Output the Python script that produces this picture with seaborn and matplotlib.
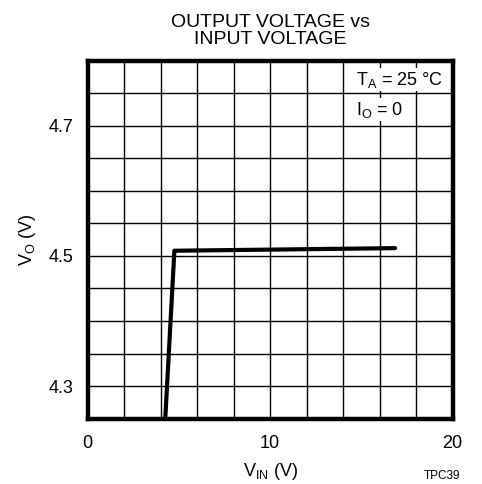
import matplotlib
matplotlib.use("Agg")
import matplotlib.pyplot as plt
import seaborn as sns
import pandas as pd
import numpy as np

# data
vin = [4.25, 4.75, 16.85]
vout = [4.25, 4.508, 4.512]

x_grid = [0, 2, 4, 6, 8, 10, 12, 14, 16, 18, 20]
x_labels = ["0", "", "", "", "", "10", "", "", "", "", "20"]
y_grid = [4.25, 4.30, 4.35, 4.40, 4.45, 4.50, 4.55, 4.60, 4.65, 4.70, 4.75, 4.80]
y_labels = ["", "4.3", "", "", "", "4.5", "", "", "", "4.7", "", ""]

sns.set_theme(style="white")
plt.rcParams['font.family'] = ['Liberation Sans', 'DejaVu Sans']
plt.rcParams['mathtext.fontset'] = 'custom'
plt.rcParams['mathtext.rm'] = 'Liberation Sans'
plt.rcParams['mathtext.it'] = 'Liberation Sans'
plt.rcParams['text.color'] = 'black'
plt.rcParams['axes.labelcolor'] = 'black'
plt.rcParams['xtick.color'] = 'black'
plt.rcParams['ytick.color'] = 'black'

fig = plt.figure(figsize=(4.82, 4.84), dpi=100)
ax = fig.add_axes([0.182, 0.135, 0.757, 0.7396])

df = pd.DataFrame({"VIN": vin, "VO": vout})
sns.lineplot(data=df, x="VIN", y="VO", ax=ax, color="black", linewidth=3.0,
             sort=False, solid_joinstyle="round", zorder=3)

ax.set_xlim(0, 20)
ax.set_ylim(4.25, 4.80)
ax.set_xticks(x_grid)
ax.set_xticklabels(x_labels, fontsize=13)
ax.set_yticks(y_grid)
ax.set_yticklabels(y_labels, fontsize=13)
ax.tick_params(length=0)
ax.tick_params(axis='x', pad=12)
ax.tick_params(axis='y', pad=10)
ax.grid(True, color="black", linewidth=1.0)
ax.set_axisbelow(True)
for s in ax.spines.values():
    s.set_visible(True)
    s.set_color("black")
    s.set_linewidth(3.2)
    s.set_zorder(5)

ax.set_xlabel(r"V$_\mathregular{IN}$ (V)", fontsize=13, labelpad=6)
ax.set_ylabel(r"V$_\mathregular{O}$ (V)", fontsize=13, labelpad=8)
ax.set_title("OUTPUT VOLTAGE vs\nINPUT VOLTAGE", fontsize=14, linespacing=1.0, pad=12)

box = dict(facecolor="white", edgecolor="none", pad=1.0)
ax.text(14.7, 4.771, r"T$_\mathregular{A}$ = 25 °C", fontsize=13, va="center", ha="left",
        bbox=box, zorder=4)
ax.text(14.7, 4.725, r"I$_\mathregular{O}$ = 0", fontsize=13, va="center", ha="left",
        bbox=box, zorder=4)

fig.text(0.918, 0.004, "TPC39", fontsize=8.5, ha="center", va="bottom")

fig.savefig("out.png", dpi=100)
